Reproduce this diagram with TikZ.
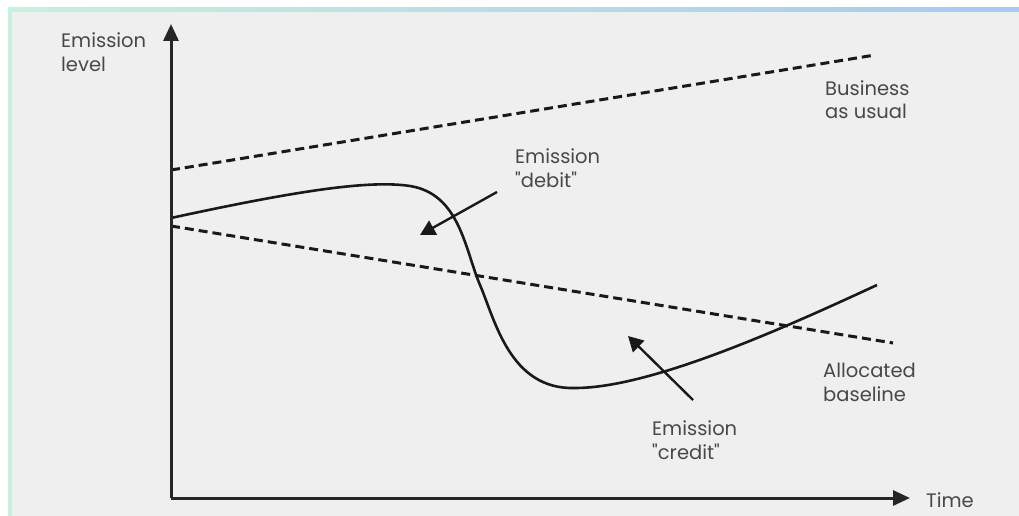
\documentclass[tikz,border=0pt]{standalone}
\usepackage{fontspec}
\setmainfont{Poppins}[Ligatures=TeXOff]
\usetikzlibrary{positioning, arrows.meta}
\tikzstyle{chart} = [x = 1pt, y = -1pt]
\definecolor{panelColor}{RGB}{239,239,239}
\definecolor{labelColor}{RGB}{72,72,72}
\definecolor{stripGreen}{RGB}{198,241,220}
\definecolor{stripBlue}{RGB}{166,202,240}
\tikzstyle{axisLine} = [color=black!85, line width=3pt, -{Triangle[length=17pt, width=15pt]}]
\tikzstyle{emissionLine} = [color=black!90, line width=2.6pt]
\tikzstyle{scenarioLine} = [color=black!90, line width=3pt, dash pattern=on 9pt off 5pt]
\tikzstyle{pointerLine} = [color=black!90, line width=2.4pt, -{Triangle[length=15pt, width=16pt]}]
\tikzstyle{labelText} = [color=labelColor, font=\fontsize{19.5}{24}\selectfont, align=left, inner sep=0pt, anchor=base west]
% anchor is the baseline of the last line
\newcommand{\chartLabel}[3]{\node [labelText] (#1) at (#2) {#3};}

\begin{document}
\begin{tikzpicture}[chart]
  \useasboundingbox (0,0) rectangle (1019,516);
  % panel with coloured edges
  \fill [panelColor] (8,8) rectangle (1019,516);
  \shade [left color=stripGreen, right color=stripBlue] (8,8) rectangle (1019,12);
  \fill [stripGreen] (8,8) rectangle (12,516);

  \coordinate (origin) at (171,498);
  \coordinate (yTip) at (171,24);
  \coordinate (xTip) at (910,498);
  \coordinate (usualStart) at (171,170);
  \coordinate (usualEnd) at (875,55);
  \coordinate (baseStart) at (171,226);
  \coordinate (baseEnd) at (893,343);
  \coordinate (debitTail) at (497,192);
  \coordinate (debitHead) at (420,235);
  \coordinate (creditTail) at (693,400);
  \coordinate (creditHead) at (628,336);

  \draw [scenarioLine] (usualStart) -- (usualEnd);
  \draw [scenarioLine] (baseStart) -- (baseEnd);

  \draw [emissionLine] (171,218) .. controls (300,190) and (370,180) .. (410,186)
    .. controls (460,194) and (465,250) .. (480,285)
    .. controls (495,320) and (510,390) .. (575,388)
    .. controls (650,388) and (780,330) .. (877,285);

  \draw [axisLine] (origin) -- (yTip);
  \draw [axisLine] (origin) -- (xTip);

  \draw [pointerLine] (debitTail) -- (debitHead);
  \draw [pointerLine] (creditTail) -- (creditHead);

  \chartLabel{levelLabel}{61,72}{Emission\\level}
  \chartLabel{usualLabel}{825,119}{Business\\as usual}
  \chartLabel{debitLabel}{515,187}{Emission\\"debit"}
  \chartLabel{baselineLabel}{823,401}{Allocated\\baseline}
  \chartLabel{creditLabel}{652,459}{Emission\\"credit"}
  \chartLabel{timeLabel}{926,507}{Time}
\end{tikzpicture}
\end{document}
